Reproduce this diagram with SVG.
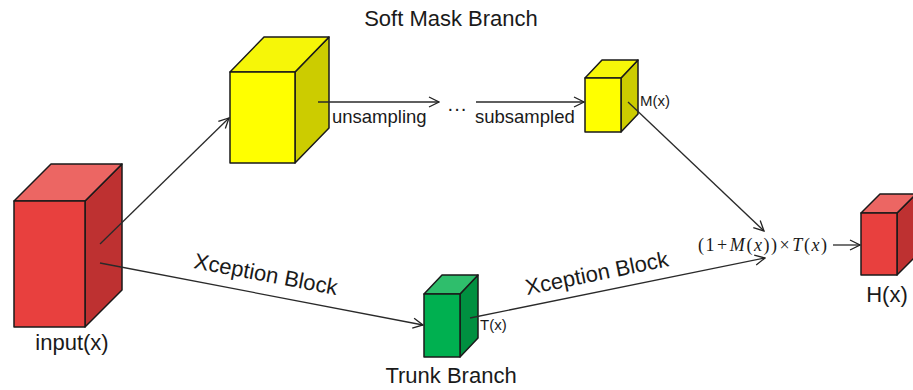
<svg xmlns="http://www.w3.org/2000/svg" width="913" height="390" viewBox="0 0 913 390">
  <defs>
    <marker id="arrow" viewBox="0 0 12 12" refX="11" refY="6" markerWidth="12" markerHeight="12" markerUnits="userSpaceOnUse" orient="auto">
      <path d="M1,1 L11,6 L1,11" fill="none" stroke="#222" stroke-width="1.3"/>
    </marker>
  </defs>
  <style>
    .edge { stroke: #2a2a2a; stroke-width: 1.3; fill: none; marker-end: url(#arrow); }
    .box { stroke: #1a1a1a; stroke-width: 1.5; stroke-linejoin: round; }
    .red .front { fill: #E8403E; } .red .top { fill: #EC6663; } .red .side { fill: #BE3131; }
    .yel .front { fill: #FFFF00; } .yel .top { fill: #F6F608; } .yel .side { fill: #CCCC00; }
    .grn .front { fill: #00B050; } .grn .top { fill: #2FBE6C; } .grn .side { fill: #009040; }
    .lbl { font-family: "Liberation Sans", Arial, sans-serif; fill: #1a1a1a; }
    .math { font-family: "Liberation Serif", "Times New Roman", serif; fill: #1a1a1a; font-size: 18px; }
  </style>
  <rect width="913" height="390" fill="#ffffff"/>

  <!-- input cube -->
  <g id="input" class="red">
    <polygon class="box side" points="85,201 122,164 122,290 85,327"/>
    <polygon class="box top" points="14,201 51,164 122,164 85,201"/>
    <rect class="box front" x="14" y="201" width="71" height="126"/>
    <text class="lbl" x="72" y="350" font-size="22" text-anchor="middle">input(x)</text>
  </g>

  <!-- soft mask branch: first block -->
  <g id="mask-in" class="yel">
    <polygon class="box side" points="295,72 329,37 329,128 295,163"/>
    <polygon class="box top" points="230,72 264,37 329,37 295,72"/>
    <rect class="box front" x="230" y="72" width="65" height="91"/>
  </g>

  <!-- soft mask branch: output block -->
  <g id="mask-out" class="yel">
    <polygon class="box side" points="621,78 638,60 638,114 621,132"/>
    <polygon class="box top" points="585,78 602,60 638,60 621,78"/>
    <rect class="box front" x="585" y="78" width="36" height="54"/>
    <text class="lbl" x="640" y="106" font-size="15">M(x)</text>
  </g>

  <!-- trunk branch block -->
  <g id="trunk" class="grn">
    <polygon class="box side" points="460,294 478,275 478,338 460,357"/>
    <polygon class="box top" points="424,294 442,275 478,275 460,294"/>
    <rect class="box front" x="424" y="294" width="36" height="63"/>
    <text class="lbl" x="480" y="330" font-size="15">T(x)</text>
  </g>

  <!-- output block -->
  <g id="output" class="red">
    <polygon class="box side" points="897,213 916,194 916,256 897,275"/>
    <polygon class="box top" points="861,213 880,194 916,194 897,213"/>
    <rect class="box front" x="861" y="213" width="36" height="62"/>
    <text class="lbl" x="887" y="302" font-size="22" text-anchor="middle">H(x)</text>
  </g>

  <!-- connectors, drawn over the block faces they start from -->
  <g id="connectors">
    <line class="edge" x1="100" y1="244" x2="229" y2="118"/>
    <line class="edge" x1="100" y1="263" x2="423" y2="325"/>
    <line class="edge" x1="318" y1="102" x2="439" y2="102"/>
    <line class="edge" x1="476" y1="102" x2="584" y2="102"/>
    <line class="edge" x1="628" y1="102" x2="764" y2="231"/>
    <line class="edge" x1="470" y1="318" x2="765" y2="258"/>
    <line class="edge" x1="833" y1="245" x2="860" y2="245"/>
  </g>

  <!-- labels -->
  <g id="labels">
    <text class="lbl" x="451" y="26" font-size="22" text-anchor="middle">Soft Mask Branch</text>
    <text class="lbl" x="451" y="383" font-size="22" text-anchor="middle">Trunk Branch</text>
    <text class="lbl" x="332" y="123" font-size="18.5">unsampling</text>
    <text class="lbl" x="447" y="115" font-size="20">···</text>
    <text class="lbl" x="475" y="123" font-size="18.5">subsampled</text>
    <text class="lbl" x="193" y="268" font-size="22" transform="rotate(10.7 193 268)">Xception Block</text>
    <text class="lbl" x="527" y="295" font-size="22" transform="rotate(-11.5 527 295)">Xception Block</text>
    <text class="math" x="698" y="251" textLength="129" lengthAdjust="spacing">(1<tspan dx="1">+</tspan><tspan dx="1" font-style="italic">M</tspan>(<tspan font-style="italic">x</tspan>))<tspan dx="1">×</tspan><tspan dx="1" font-style="italic">T</tspan>(<tspan font-style="italic">x</tspan>)</text>
  </g>
</svg>
